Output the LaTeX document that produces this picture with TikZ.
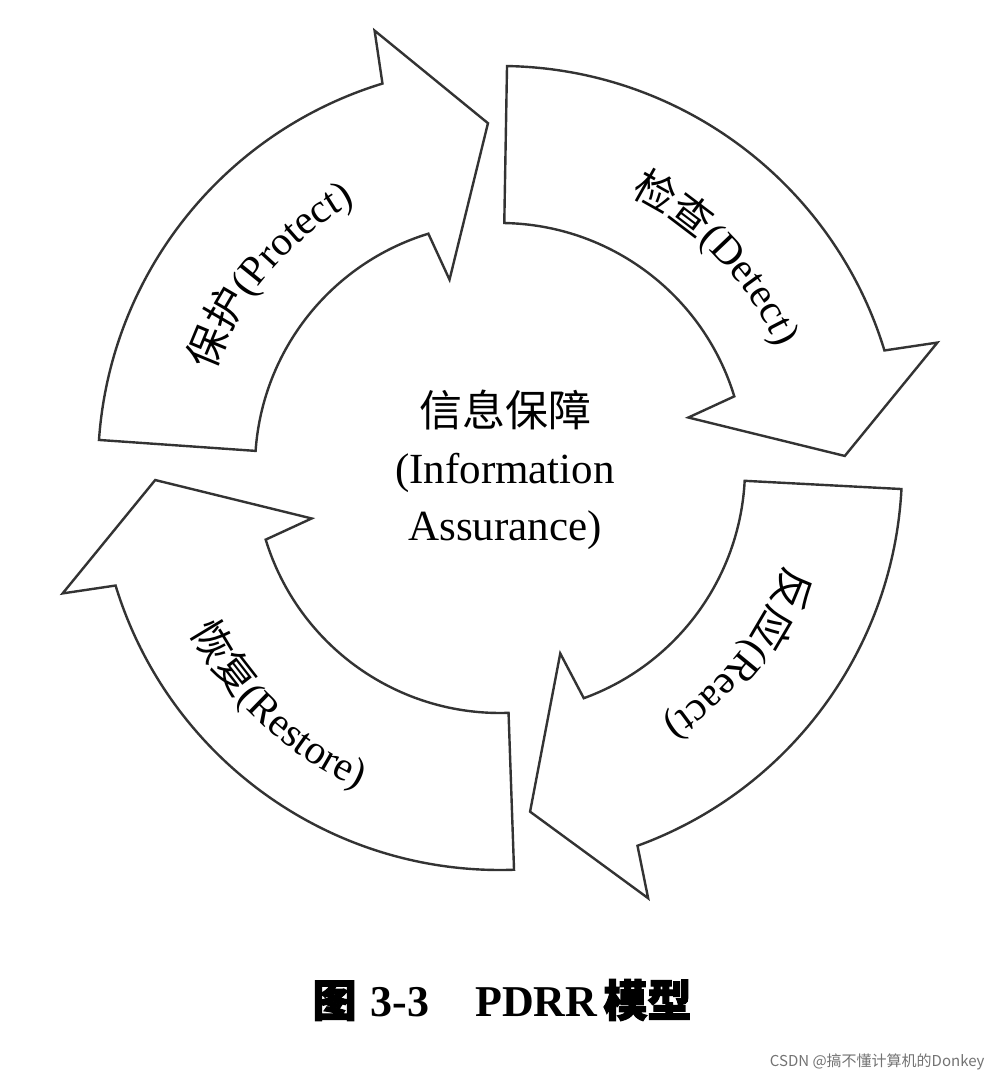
\documentclass[tikz,border=0pt]{standalone}
\usepackage{fontspec}
\setmainfont{Liberation Serif}
\newfontfamily\cjk{Noto Sans CJK SC}
\newfontfamily\cjkb{Noto Sans CJK SC}[FakeBold=2.5]
\usetikzlibrary{decorations.text}
\newcommand\fsz{\fontsize{41}{45}\selectfont}
\tikzset{arr/.style={draw=black!80,line width=2.4pt,fill=white,line join=miter},
 lbl/.style={decorate,decoration={text along path,text align=center}}}
\begin{document}
\begin{tikzpicture}[x=1pt,y=1pt]
\useasboundingbox (0,0) rectangle (1000,1084);
\fill[white] (0,0) rectangle (1000,1084);
\begin{scope}[shift={(500,616)}]
% Protect
\draw[arr] (176:402) arc[start angle=176,end angle=107,radius=402] -- (106:455) -- (92:345) -- (105:195) -- (107:245) arc[start angle=107,end angle=176,radius=245] -- cycle;
% Detect
\draw[arr] (89:402) arc[start angle=89,end angle=17,radius=402] -- (16:455) -- (2:345) -- (15:195) -- (17:245) arc[start angle=17,end angle=89,radius=245] -- cycle;
% React
\draw[arr] (-3:402) arc[start angle=-3,end angle=-70,radius=402] -- (-71:455) -- (-85:345) -- (-72:195) -- (-70:245) arc[start angle=-70,end angle=-3,radius=245] -- cycle;
% Restore
\draw[arr] (272:402) arc[start angle=272,end angle=197,radius=402] -- (196:455) -- (182:345) -- (195:195) -- (197:245) arc[start angle=197,end angle=272,radius=245] -- cycle;
% labels
\path[lbl,decoration={text={|\cjk\fsz|保护|\rmfamily\fsz|(Protect)}}] (174:302) arc[start angle=174,end angle=106,radius=302];
\path[lbl,decoration={text={|\cjk\fsz|检查|\rmfamily\fsz|(Detect)}}] (76:302) arc[start angle=76,end angle=12,radius=302];
\path[lbl,decoration={text={|\cjk\fsz|反应|\rmfamily\fsz|(React)}}] (-8:302) arc[start angle=-8,end angle=-68,radius=302];
\path[lbl,decoration={text={|\cjk\fsz|恢复|\rmfamily\fsz|(Restore)}}] (196:350) arc[start angle=196,end angle=258,radius=350];
\node[align=center,font=\fontsize{43}{57}\selectfont] (c) at (5,-2) {{\cjk 信息保障}\\(Information\\Assurance)};
\end{scope}
\node[font=\fontsize{44}{48}\selectfont\bfseries] (cap) at (502,84) {{\cjkb 图}\hspace{14pt}3-3\hspace{46pt}PDRR\hspace{6pt}{\cjkb 模型}};
\node[font=\fontsize{15}{18}\selectfont\cjk,text=black!55,anchor=east] (wm) at (988,22) {CSDN @搞不懂计算机的Donkey};
\end{tikzpicture}
\end{document}
